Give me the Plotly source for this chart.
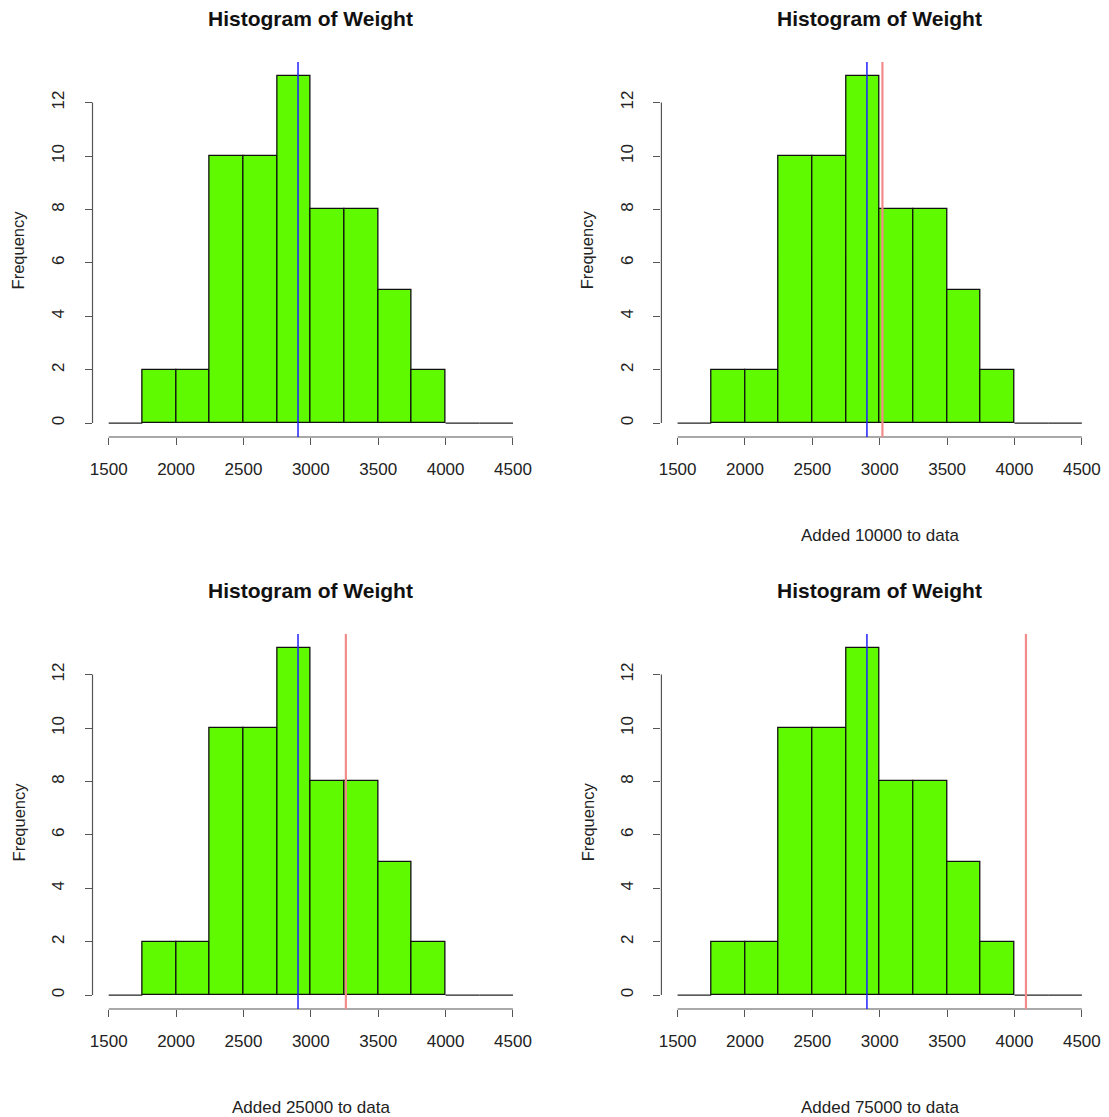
import plotly.graph_objects as go

# Histogram bins (left edges) and bin width, counts per bin
bin_left = [1500, 1750, 2000, 2250, 2500, 2750, 3000, 3250, 3500, 3750, 4000, 4250]
bin_width = 250
counts = [0, 2, 2, 10, 10, 13, 8, 8, 5, 2, 0, 0]

x_ticks = [1500, 2000, 2500, 3000, 3500, 4000, 4500]
y_ticks = [0, 2, 4, 6, 8, 10, 12]

# Mean of the original data, and mean after adding an outlier
mean_original = 2905
mean_shifted = [None, 3020, 3260, 4085]
notes = ["", "Added 10000 to data", "Added 25000 to data", "Added 75000 to data"]

W, H = 1109, 1117
FONT = "Liberation Sans, Arial, Helvetica, sans-serif"
GREEN = "#5FF900"
AXIS = "#555555"

# plot regions in pixels: (left, right, top, bottom)
regions = [
    (90, 529, 62, 437),
    (662, 1101, 62, 437),
    (90, 529, 634, 1009),
    (662, 1101, 634, 1009),
]

fig = go.Figure()
layout = {}
shapes = []
annotations = []

for i, (l, r, t, b) in enumerate(regions):
    n = i + 1
    xa = "x" if n == 1 else f"x{n}"
    ya = "y" if n == 1 else f"y{n}"
    xkey = "xaxis" if n == 1 else f"xaxis{n}"
    ykey = "yaxis" if n == 1 else f"yaxis{n}"

    # bars for non-empty bins
    bx = [s + bin_width / 2 for s, c in zip(bin_left, counts) if c > 0]
    by = [c for c in counts if c > 0]
    fig.add_trace(go.Bar(
        x=bx, y=by, width=bin_width, xaxis=xa, yaxis=ya,
        marker=dict(color=GREEN, line=dict(color="#111111", width=1.3)),
        showlegend=False, hoverinfo="skip",
    ))
    # empty bins show as flat segments at zero
    zx, zy = [], []
    for s, c in zip(bin_left, counts):
        if c == 0:
            zx += [s, s + bin_width, None]
            zy += [0, 0, None]
    fig.add_trace(go.Scatter(
        x=zx, y=zy, mode="lines", xaxis=xa, yaxis=ya,
        line=dict(color="#222222", width=1.3),
        showlegend=False, hoverinfo="skip",
    ))

    layout[xkey] = dict(
        domain=[l / W, r / W], range=[1380, 4620], anchor=ya,
        tickvals=x_ticks, ticktext=[str(v) for v in x_ticks],
        ticks="outside", ticklen=7, tickcolor=AXIS, tickwidth=1.2,
        ticklabelstandoff=10,
        showgrid=False, zeroline=False, showline=False,
        tickfont=dict(family=FONT, size=17, color="#222222"),
    )
    layout[ykey] = dict(
        domain=[1 - b / H, 1 - t / H], range=[-0.52, 13.52], anchor=xa,
        tickvals=y_ticks, ticktext=[str(v) for v in y_ticks],
        ticks="outside", ticklen=7, tickcolor=AXIS, tickwidth=1.2,
        tickangle=-90, ticklabelstandoff=14,
        showgrid=False, zeroline=False, showline=False,
        tickfont=dict(family=FONT, size=17, color="#222222"),
    )

    # R-style axis lines spanning only the tick range
    shapes.append(dict(type="line", xref=xa, yref=f"{ya} domain",
                       x0=x_ticks[0], x1=x_ticks[-1], y0=0, y1=0,
                       line=dict(color=AXIS, width=1.2)))
    shapes.append(dict(type="line", xref=f"{xa} domain", yref=ya,
                       x0=0, x1=0, y0=y_ticks[0], y1=y_ticks[-1],
                       line=dict(color=AXIS, width=1.2)))

    # mean lines
    shapes.append(dict(type="line", xref=xa, yref=f"{ya} domain",
                       x0=mean_original, x1=mean_original, y0=0, y1=1,
                       line=dict(color="#2020FF", width=1.5)))
    if mean_shifted[i] is not None:
        shapes.append(dict(type="line", xref=xa, yref=f"{ya} domain",
                           x0=mean_shifted[i], x1=mean_shifted[i], y0=0, y1=1,
                           line=dict(color="#F28B8B", width=2.2)))

    cx = (l + r) / 2 / W
    annotations.append(dict(
        text="<b>Histogram of Weight</b>", xref="paper", yref="paper",
        x=cx, y=1 - (t - 44) / H, xanchor="center", yanchor="middle",
        showarrow=False, font=dict(family=FONT, size=21, color="#111111"),
    ))
    annotations.append(dict(
        text="Frequency", xref="paper", yref="paper",
        x=(l - 74) / W, y=1 - (t + b) / 2 / H, xanchor="center", yanchor="middle",
        textangle=-90, showarrow=False,
        font=dict(family=FONT, size=16.5, color="#222222"),
    ))
    if notes[i]:
        annotations.append(dict(
            text=notes[i], xref="paper", yref="paper",
            x=cx, y=1 - (b + 98) / H, xanchor="center", yanchor="middle",
            showarrow=False, font=dict(family=FONT, size=17, color="#222222"),
        ))

fig.update_layout(
    width=W, height=H,
    margin=dict(l=0, r=0, t=0, b=0),
    paper_bgcolor="white", plot_bgcolor="white",
    bargap=0, shapes=shapes, annotations=annotations,
    **layout,
)

fig.write_html("out.html")
